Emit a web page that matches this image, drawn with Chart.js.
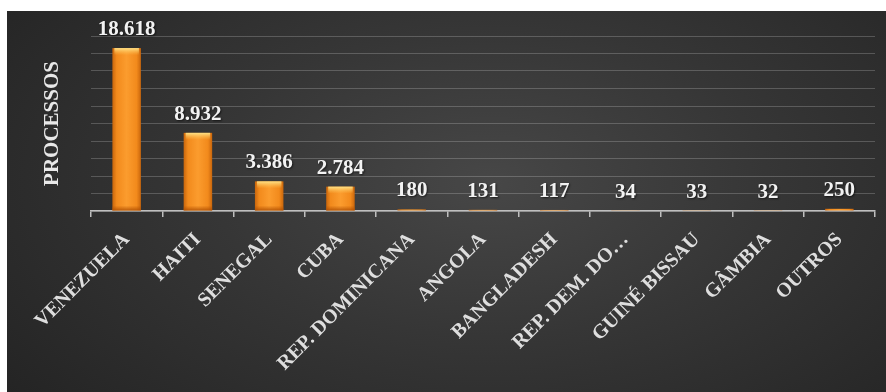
<!DOCTYPE html>
<html>
<head>
<meta charset="utf-8">
<script src="https://cdn.jsdelivr.net/npm/chart.js@4.4.1/dist/chart.umd.min.js"></script>
<style>
  html, body { margin: 0; padding: 0; background: #ffffff; }
  #wrap {
    position: absolute; left: 7px; top: 11px; width: 879px; height: 381px;
    background: radial-gradient(ellipse 70% 90% at 55% 45%, #474747 0%, #363636 45%, #242424 100%);
  }
</style>
</head>
<body>
<div id="wrap"><canvas id="paisesChart" width="879" height="381"></canvas></div>
<script>
const paises = ['VENEZUELA', 'HAITI', 'SENEGAL', 'CUBA', 'REP. DOMINICANA', 'ANGOLA',
                'BANGLADESH', 'REP. DEM. DO…', 'GUINÉ BISSAU', 'GÂMBIA', 'OUTROS'];
const processos = [18618, 8932, 3386, 2784, 180, 131, 117, 34, 33, 32, 250];
const yMax = 20000;
const yStep = 2000;

const serif = '"Liberation Serif", "Times New Roman", serif';

// 18618 -> "18.618"
function formatPt(v) {
    return v.toString().replace(/\B(?=(\d{3})+(?!\d))/g, '.');
}

// pinta as barras com degradê laranja e escreve os valores
const barraEstilo = {
    id: 'barraEstilo',
    afterDatasetsDraw(chart) {
        const ctx = chart.ctx;
        const meta = chart.getDatasetMeta(0);
        meta.data.forEach((bar, i) => {
            const { x, y, base, width } = bar.getProps(['x', 'y', 'base', 'width'], true);
            const left = x - width / 2;
            const h = base - y;
            ctx.save();
            const g = ctx.createLinearGradient(left, 0, left + width, 0);
            g.addColorStop(0, '#c9660c');
            g.addColorStop(0.15, '#f28a1c');
            g.addColorStop(0.5, '#fb9c2e');
            g.addColorStop(0.85, '#f28a1c');
            g.addColorStop(1, '#c9660c');
            ctx.fillStyle = g;
            ctx.fillRect(left, y, width, h);
            if (h > 6) {
                const t = ctx.createLinearGradient(0, y, 0, y + 7);
                t.addColorStop(0, 'rgba(255,230,140,0.95)');
                t.addColorStop(1, 'rgba(255,200,90,0)');
                ctx.fillStyle = t;
                ctx.fillRect(left + 2, y, width - 4, 7);
                const b = ctx.createLinearGradient(0, base - 5, 0, base);
                b.addColorStop(0, 'rgba(180,80,0,0)');
                b.addColorStop(1, 'rgba(170,75,0,0.8)');
                ctx.fillStyle = b;
                ctx.fillRect(left, base - 5, width, 5);
            }
            ctx.fillStyle = '#f2f2f2';
            ctx.font = 'bold 21px ' + serif;
            ctx.textAlign = 'center';
            ctx.textBaseline = 'alphabetic';
            ctx.shadowColor = 'rgba(0,0,0,0.6)';
            ctx.shadowBlur = 2;
            ctx.shadowOffsetX = 1;
            ctx.shadowOffsetY = 1;
            ctx.fillText(formatPt(processos[i]), x, y - 13);
            ctx.restore();
        });
    }
};

const ctx = document.getElementById('paisesChart').getContext('2d');
new Chart(ctx, {
    type: 'bar',
    data: {
        labels: paises,
        datasets: [{
            label: 'Processos',
            data: processos,
            backgroundColor: 'rgba(0,0,0,0)',
            borderWidth: 0,
            barPercentage: 0.4,
            categoryPercentage: 1.0
        }]
    },
    options: {
        responsive: false,
        animation: false,
        layout: { padding: { left: 33, top: 25, right: 11, bottom: 0 } },
        plugins: {
            legend: { display: false },
            tooltip: { enabled: false }
        },
        scales: {
            x: {
                grid: {
                    offset: true,
                    drawOnChartArea: false,
                    drawTicks: true,
                    tickLength: 6,
                    color: '#bfbfbf',
                    lineWidth: 1.5
                },
                border: { display: true, color: '#bfbfbf', width: 1.5 },
                ticks: {
                    autoSkip: false,
                    maxRotation: 45,
                    minRotation: 45,
                    padding: 11,
                    color: '#dedede',
                    font: { family: serif, size: 20, weight: 'bold' }
                },
                afterFit(scale) { scale.height = 181; }
            },
            y: {
                min: 0,
                max: yMax,
                ticks: { display: false, stepSize: yStep },
                grid: { color: 'rgba(255,255,255,0.2)', lineWidth: 1, drawTicks: false },
                border: { display: false },
                title: {
                    display: true,
                    text: 'PROCESSOS',
                    color: '#e8e8e8',
                    padding: 0,
                    font: { family: serif, size: 21, weight: 'bold' }
                },
                afterFit(scale) { scale.width = 51; }
            }
        }
    },
    plugins: [barraEstilo]
});
</script>
</body>
</html>
